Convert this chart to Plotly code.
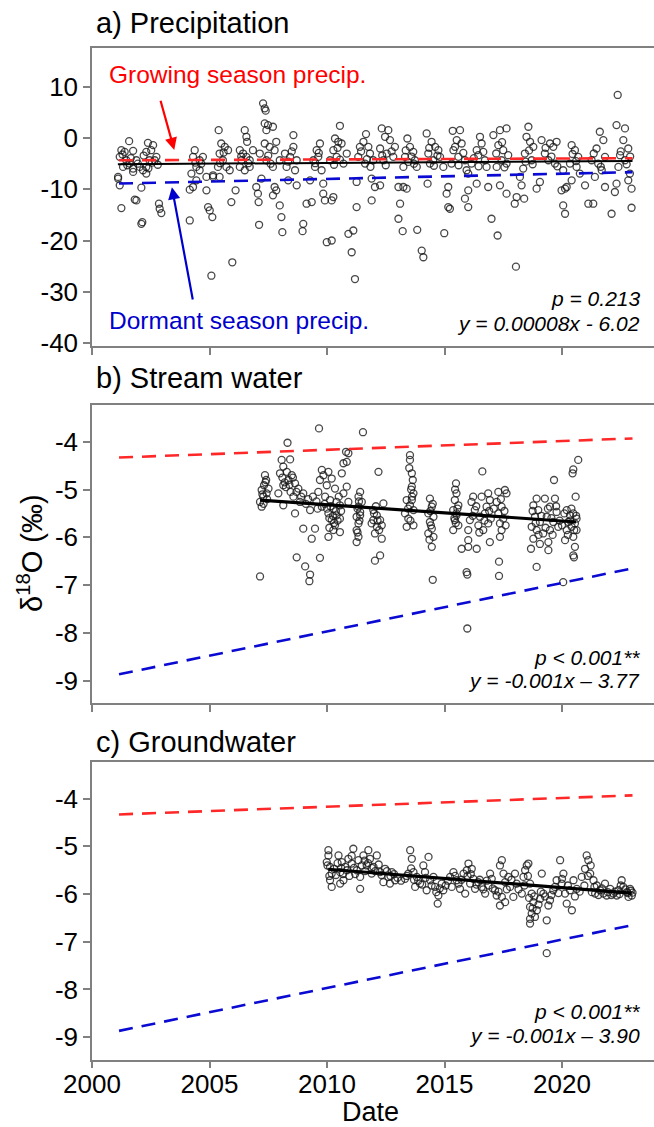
import plotly.graph_objects as go

# ---------------- data (decimal year, d18O permil) ----------------
precip_year = [
    2001.58, 2001.25, 2001.39, 2001.75, 2001.18, 2001.46, 2001.60, 2001.32, 2001.75, 2001.11,
    2001.18, 2002.10, 2001.25, 2001.89, 2001.82, 2002.14, 2002.10, 2002.85, 2002.88, 2002.95,
    2002.38, 2002.60, 2002.31, 2002.52, 2002.74, 2002.45, 2002.31, 2002.17, 2002.31, 2002.67,
    2001.89, 2002.03, 2001.75, 2001.11,
    2004.37, 2004.30, 2004.58, 2004.44, 2004.23, 2004.30, 2004.16, 2004.72, 2004.58, 2004.87,
    2005.15, 2004.94, 2005.01, 2005.12, 2004.16, 2004.87, 2004.44, 2005.08, 2005.97,
    2005.39, 2005.50, 2005.65, 2005.79, 2005.43, 2005.57, 2005.72, 2005.86, 2005.36, 2005.93,
    2006.11, 2005.43, 2005.15,
    2006.50, 2006.57, 2006.60, 2006.29, 2006.43, 2006.57, 2006.71, 2006.29, 2006.50, 2006.71,
    2006.99, 2007.06, 2007.09, 2007.11, 2006.85, 2006.36,
    2007.28, 2007.35, 2007.39, 2007.35, 2007.49, 2007.42, 2007.70, 2007.35, 2007.56, 2007.77,
    2007.14, 2007.42, 2007.70, 2007.21, 2007.77, 2007.70, 2007.84, 2007.99, 2008.06, 2008.10,
    2007.84, 2007.99,
    2008.21, 2008.57, 2008.57, 2008.43, 2008.71, 2008.28, 2008.64, 2008.35, 2008.71, 2008.99,
    2008.96, 2009.13, 2009.35, 2009.28, 2009.42, 2009.56, 2009.70, 2009.63, 2009.49, 2009.77,
    2009.84, 2009.84, 2009.91, 2009.99, 2010.20,
    2010.55, 2010.34, 2010.48, 2010.62, 2010.27, 2010.13, 2010.41, 2010.70, 2010.84, 2010.20,
    2010.27, 2010.91, 2011.12, 2011.26, 2011.05, 2011.19, 2011.26,
    2011.66, 2011.40, 2011.55, 2011.76, 2011.33, 2011.62, 2011.83, 2011.97, 2011.90, 2012.04,
    2012.26, 2011.90,
    2012.33, 2012.61, 2012.47, 2012.68, 2012.26, 2012.54, 2012.82, 2012.40, 2012.89, 2013.04,
    2013.11, 2013.04, 2013.22,
    2013.42, 2013.53, 2013.67, 2013.32, 2013.46, 2013.74, 2013.25, 2013.82, 2013.25, 2013.39,
    2013.84, 2014.03, 2014.10, 2014.28,
    2014.24, 2014.45, 2014.60, 2014.74, 2014.31, 2014.52, 2014.81, 2014.38, 2014.95, 2014.99,
    2015.16, 2015.09, 2015.16, 2015.23,
    2015.35, 2015.66, 2015.52, 2015.73, 2015.38, 2015.59, 2015.87, 2015.30, 2015.94, 2015.87,
    2016.01,
    2016.51, 2016.37, 2016.58, 2016.44, 2016.72, 2016.79, 2016.15, 2016.01, 2016.01, 2016.37,
    2016.86, 2017.00, 2017.26,
    2017.08, 2017.36, 2017.64, 2017.29, 2017.50, 2017.71, 2017.43, 2017.22, 2017.64, 2017.36,
    2017.64, 2018.07, 2017.99, 2018.39, 2018.04,
    2018.57, 2018.49, 2018.64, 2018.78, 2018.42, 2018.71, 2018.35, 2018.21, 2018.28, 2018.92,
    2019.06,
    2019.13, 2019.49, 2019.63, 2019.77, 2019.27, 2019.42, 2019.70, 2020.05, 2019.98, 2020.13,
    2020.20, 2020.05, 2020.13,
    2020.41, 2020.55, 2020.69, 2020.34, 2020.62, 2020.76, 2020.41, 2020.98, 2021.12, 2021.33,
    2021.61, 2021.47, 2021.76, 2021.26, 2021.54, 2021.83, 2021.69, 2021.40, 2021.83, 2022.11,
    2022.37, 2022.32, 2022.68, 2022.61, 2022.82, 2022.47, 2022.68, 2022.40, 2022.89, 2022.82,
    2022.32, 2022.96, 2022.96, 2022.25,
    2001.30, 2001.50, 2001.65, 2001.95, 2002.20, 2002.40, 2002.55, 2002.80, 2004.40, 2004.65,
    2005.45, 2005.60, 2006.35, 2006.65, 2007.50, 2007.60, 2008.35, 2008.50, 2009.50, 2009.65,
    2010.30, 2010.45, 2010.55, 2011.45, 2011.70, 2011.85, 2012.35, 2012.50, 2012.75, 2013.35,
    2013.60, 2013.70, 2014.35, 2014.55, 2014.70, 2015.45, 2015.60, 2015.80, 2016.25, 2016.45,
    2016.65, 2017.20, 2017.45, 2017.55, 2018.45, 2018.60, 2018.75, 2019.30, 2019.55, 2019.80,
    2020.45, 2020.60, 2021.35, 2021.65, 2022.50, 2022.75, 2022.90,
]
precip_d18o = [
    -0.59, -2.36, -2.68, -2.49, -3.66, -4.32, -4.97, -5.62, -5.95, -7.58,
    -9.22, -9.68, -13.66, -12.16, -12.00, -16.41, -16.74, -12.81, -13.79, -14.64,
    -0.92, -1.37, -2.68, -2.36, -3.66, -4.32, -5.62, -6.28, -6.93, -4.32,
    -4.32, -5.62, -6.60, -7.91,
    -2.36, -3.66, -4.32, -5.62, -6.93, -9.55, -10.07, -3.66, -6.28, -7.58,
    -7.26, -13.47, -14.12, -15.43, -16.08, -10.20, -8.24, -26.87, -24.25,
    1.56, -1.05, -1.70, -2.36, -3.01, -4.32, -5.62, -6.28, -5.62, -12.49,
    -10.20, -7.58, -7.58,
    1.56, 0.26, -0.72, -2.36, -3.01, -3.66, -4.32, -5.62, -6.28, -5.62,
    -9.55, -10.85, -12.49, -16.93, -2.36, -4.32,
    6.79, 5.81, 5.36, 2.87, 2.54, 1.56, 2.22, -1.05, -1.70, -2.36,
    -3.01, -4.32, -5.62, -7.91, -9.55, -11.18, -10.20, -13.14, -15.43, -18.37,
    -0.72, -4.32,
    -3.01, 0.59, -1.70, -3.66, -4.32, -5.62, -6.28, -8.24, -9.22, -16.74,
    -18.17, -12.81, -12.49, -8.24, -4.32, -2.36, -1.05, -3.66, -5.62, -6.28,
    -8.89, -10.85, -12.16, -20.33, -20.00,
    2.41, -0.07, -0.72, -1.05, -2.36, -4.32, -3.66, -4.97, -3.01, -12.16,
    -11.51, -18.70, -18.04, -13.47, -22.29, -27.52, -8.56,
    0.78, -1.70, -0.72, -1.70, -3.66, -4.97, -3.01, -4.32, -7.91, -9.55,
    -9.22, -12.16,
    1.89, 1.56, 0.26, -0.39, -2.03, -3.01, -3.66, -4.32, -1.70, -9.55,
    -12.81, -15.75, -18.17,
    -0.07, -1.70, -2.68, -3.66, -4.65, -4.32, -5.62, -5.62, -9.55, -9.87,
    -17.91, -21.96, -23.27, -8.89,
    0.91, -0.72, -1.70, -2.36, -3.01, -4.32, -3.66, -4.97, -5.62, -18.57,
    -9.55, -10.85, -13.47, -13.79,
    1.43, 1.56, -0.39, -1.05, -2.36, -3.66, -4.32, -4.97, -6.28, -11.83,
    -13.47,
    0.26, -2.36, -1.05, -3.34, -4.32, -5.62, -4.97, -6.93, -10.20, -8.89,
    -9.55, -15.75, -19.02,
    0.59, 1.56, 1.89, -1.37, -2.36, -3.34, -4.32, -5.62, -4.97, -9.22,
    -10.85, -11.51, -12.81, -11.83, -25.10,
    2.22, 0.26, -0.72, -1.70, -3.01, -4.32, -5.95, -7.58, -9.22, -9.87,
    -8.56,
    -0.39, -1.05, -1.70, -0.72, -3.01, -4.32, -4.97, -6.28, -10.20, -9.87,
    -9.55, -13.14, -14.77,
    -1.37, -2.36, -3.66, -4.97, -5.62, -6.93, -8.24, -9.22, -12.81, -12.81,
    1.24, -2.03, -0.39, -4.32, -4.97, -3.66, -6.28, -7.58, -9.55, -14.77,
    8.43, 2.54, 1.89, -0.39, -2.03, -3.34, -4.32, -5.62, -6.93, -8.24,
    -8.89, -9.87, -13.60, -10.52,
    -3.2, -5.3, -3.9, -5.0, -3.4, -5.9, -4.8, -5.2, -4.8, -5.0,
    -4.9, -2.8, -3.6, -4.9, -3.4, -5.0, -4.6, -2.6, -4.9, -2.9,
    -5.2, -1.9, -4.2, -2.6, -4.1, -5.6, -3.4, -5.3, -2.6, -2.4,
    -3.6, -5.0, -1.9, -5.4, -3.4, -1.7, -5.3, -2.9, -3.9, -5.5,
    -2.7, -3.0, -0.8, -5.7, -4.6, -2.4, -5.1, -1.9, -3.6, -5.5,
    -3.1, -4.5, -3.0, -5.6, -2.6, -5.1, -3.6,
]

stream_year = [
    2007.36, 2007.41, 2007.32, 2007.22, 2007.43, 2007.29, 2007.15, 2007.22, 2007.51, 2007.15,
    2008.07, 2008.43, 2008.14, 2008.29, 2008.00, 2008.50, 2008.36, 2008.64, 2008.14, 2008.78,
    2007.93, 2008.99, 2008.57, 2008.85, 2008.14, 2008.64, 2009.28, 2008.99, 2009.35, 2009.49,
    2008.71, 2009.07, 2009.28, 2009.25, 2009.70, 2008.32,
    2009.78, 2009.85, 2010.06, 2009.70, 2010.20, 2009.99, 2009.63, 2010.34, 2009.92, 2010.13,
    2010.41, 2009.78, 2010.27, 2010.55, 2010.06, 2010.41, 2010.20, 2010.55, 2010.34, 2010.06,
    2010.27, 2010.55, 2010.70, 2010.84, 2010.81, 2010.91, 2010.63, 2010.84, 2010.70, 2010.91,
    2009.66, 2011.53,
    2011.41, 2011.34, 2011.48, 2011.34, 2011.41, 2011.26, 2011.34, 2011.26, 2011.34, 2011.26,
    2011.41,
    2012.19, 2012.40, 2011.97, 2012.12, 2012.26, 2011.90, 2012.12, 2012.33, 2012.04, 2012.33,
    2012.26, 2012.04, 2011.97,
    2013.53, 2013.53, 2013.61, 2013.65, 2013.61, 2013.68, 2013.39, 2013.53, 2013.68, 2013.32,
    2013.46, 2013.39, 2013.68, 2013.61,
    2014.38, 2014.46, 2014.31, 2014.53, 2014.38, 2014.46, 2014.31, 2014.53, 2014.46, 2014.50,
    2015.49, 2015.51, 2015.44, 2015.59, 2015.37, 2015.51, 2015.44, 2015.59, 2015.37, 2015.51,
    2016.01, 2016.01, 2016.01, 2015.73, 2016.37, 2015.94, 2015.97, 2015.97,
    2016.61, 2016.15, 2016.29, 2016.51, 2016.08, 2016.44, 2016.65, 2016.22, 2016.58, 2016.86,
    2016.79, 2016.93, 2016.72, 2016.97, 2016.86, 2016.93,
    2017.36, 2017.29, 2017.57, 2017.64, 2017.22, 2017.43, 2017.29, 2017.50, 2017.36, 2017.43,
    2017.32, 2017.32,
    2018.92, 2018.78, 2018.99, 2018.85, 2019.06, 2018.71, 2018.92, 2019.20, 2018.78, 2019.06,
    2019.42, 2019.42, 2018.68, 2018.92, 2019.27, 2019.70, 2019.49, 2019.77, 2019.35, 2019.63,
    2019.84, 2019.49, 2019.66, 2020.05,
    2020.20, 2020.34, 2020.48, 2020.62, 2020.27, 2020.41, 2020.55, 2020.20, 2020.62, 2020.13,
    2020.48, 2020.55, 2020.48, 2020.51, 2020.58, 2020.45, 2020.48, 2020.69,
    2007.25, 2007.30, 2007.38, 2007.45, 2008.10, 2008.20, 2008.25, 2008.40, 2008.45, 2008.55,
    2008.70, 2008.90, 2009.10, 2009.20, 2009.40, 2009.55, 2009.60, 2009.90, 2010.00, 2010.10,
    2010.15, 2010.25, 2010.30, 2010.38, 2010.45, 2010.50, 2010.60, 2010.10, 2011.30, 2011.38,
    2011.30, 2011.36, 2012.00, 2012.15, 2012.22, 2012.08, 2013.50, 2013.58, 2013.45, 2013.55,
    2013.62, 2014.40, 2014.42, 2014.36, 2014.50, 2015.45, 2015.55, 2015.42, 2015.48, 2016.20,
    2016.35, 2016.48, 2016.70, 2016.90, 2017.10, 2017.40, 2017.55, 2017.60, 2018.75, 2018.88,
    2019.00, 2019.12, 2019.30, 2019.40, 2019.55, 2019.60, 2019.75, 2019.90, 2020.00, 2020.10,
    2020.25, 2020.35, 2020.40, 2020.52, 2020.60,
]
stream_d18o = [
    -4.70, -4.80, -4.91, -5.01, -5.08, -5.15, -5.26, -5.36, -4.98, -6.82,
    -4.38, -4.37, -4.52, -4.63, -4.66, -4.70, -4.80, -4.87, -4.91, -4.98,
    -5.08, -5.08, -5.15, -5.26, -5.33, -5.50, -5.43, -5.82, -6.03, -5.82,
    -6.42, -6.61, -6.78, -6.92, -6.43, -4.02,
    -4.59, -4.70, -4.63, -4.80, -4.77, -4.91, -5.05, -4.98, -5.15, -5.22,
    -5.26, -5.36, -5.40, -5.33, -5.50, -5.54, -5.64, -5.61, -5.75, -5.99,
    -5.85, -5.89, -4.45, -4.42, -4.21, -4.24, -4.66, -4.94, -5.08, -5.26,
    -3.72, -3.80,
    -5.05, -5.15, -5.26, -5.36, -5.47, -5.57, -5.71, -5.85, -5.99, -6.10,
    -5.54,
    -4.63, -5.29, -5.43, -5.54, -5.64, -5.71, -5.78, -5.75, -5.92, -6.03,
    -6.38, -6.49, -5.64,
    -4.28, -4.38, -4.66, -4.80, -4.94, -5.08, -5.22, -5.33, -5.43, -5.50,
    -5.61, -5.78, -5.75, -5.22,
    -5.19, -5.36, -5.50, -5.57, -5.68, -5.82, -5.92, -5.99, -6.20, -6.89,
    -4.87, -5.08, -5.22, -5.33, -5.43, -5.54, -5.64, -5.75, -5.85, -5.50,
    -5.85, -6.06, -6.20, -6.24, -6.24, -6.73, -6.78, -7.91,
    -4.62, -5.26, -5.43, -5.57, -5.64, -5.75, -5.85, -5.15, -5.15, -5.08,
    -5.36, -5.22, -5.50, -5.61, -5.71, -6.10,
    -5.99, -5.05, -5.01, -5.08, -5.26, -5.36, -5.50, -5.61, -5.71, -5.85,
    -6.51, -6.81,
    -5.19, -5.33, -5.43, -5.57, -5.68, -5.78, -5.85, -5.92, -6.03, -6.14,
    -6.10, -6.27, -6.24, -6.62, -5.19, -5.19, -5.36, -5.47, -5.57, -5.68,
    -5.78, -5.85, -4.80, -6.94,
    -5.43, -5.54, -5.50, -5.61, -5.68, -5.78, -5.71, -5.85, -5.85, -6.06,
    -5.99, -6.20, -6.38, -6.42, -5.15, -4.66, -4.58, -4.38,
    -5.10, -5.30, -4.85, -5.20, -4.75, -4.85, -4.95, -4.90, -5.05, -4.75,
    -5.05, -5.15, -5.30, -5.20, -5.15, -5.25, -5.40, -5.30, -5.40, -5.60,
    -5.35, -5.55, -5.70, -5.45, -5.65, -5.15, -5.45, -5.80, -5.40, -5.65,
    -5.90, -5.25, -5.50, -5.65, -5.85, -5.35, -4.55, -5.00, -5.40, -5.65,
    -5.15, -5.45, -5.75, -6.05, -5.30, -5.00, -5.40, -5.60, -5.70, -5.55,
    -5.35, -5.90, -5.65, -5.45, -5.40, -5.20, -5.45, -5.75, -5.45, -5.70,
    -5.95, -5.55, -5.80, -5.40, -5.60, -5.95, -5.35, -5.65, -5.75, -5.50,
    -5.95, -5.65, -5.40, -5.85, -5.55,
]

ground_year = [
    2010.06, 2010.06, 2009.99, 2010.13, 2010.20, 2010.13, 2010.20, 2010.49, 2010.63, 2010.56,
    2010.77, 2010.70, 2010.56, 2010.91, 2011.12, 2011.05, 2011.27, 2011.41, 2011.41, 2011.34,
    2011.55, 2011.76, 2011.83, 2011.69, 2011.98, 2012.12, 2011.90, 2012.26, 2012.47, 2012.61,
    2012.40, 2012.76, 2012.90, 2012.68,
    2013.54, 2013.61, 2013.46, 2013.32, 2013.82, 2013.75, 2013.96, 2014.10, 2014.32, 2014.17,
    2014.39, 2014.24, 2014.53, 2014.60, 2014.74, 2014.71, 2014.88, 2014.95, 2013.68,
    2015.24, 2015.38, 2015.52, 2015.31, 2015.66, 2015.81, 2016.02, 2015.95, 2016.16, 2016.23,
    2016.09, 2016.30, 2015.88, 2016.44, 2016.58, 2016.73, 2016.94, 2017.01, 2016.87, 2017.15,
    2017.22,
    2017.44, 2017.36, 2017.51, 2017.72, 2017.58, 2017.44, 2017.36, 2017.58, 2017.79, 2018.00,
    2018.07, 2017.93, 2018.29, 2018.36, 2018.50, 2018.57, 2018.43, 2018.64, 2018.71, 2018.64,
    2018.78, 2018.71, 2018.64, 2018.64, 2018.93, 2018.85, 2019.07, 2019.14, 2019.35, 2019.42,
    2019.21, 2019.35, 2019.49, 2019.63, 2019.77, 2019.92, 2020.06, 2019.99, 2020.13, 2020.20,
    2020.42, 2020.34, 2020.49, 2020.63, 2020.84,
    2021.05, 2021.12, 2020.98, 2021.20, 2021.34, 2021.48, 2021.27, 2021.62, 2021.83, 2021.76,
    2022.05, 2022.19, 2022.40, 2022.54, 2022.61, 2022.76, 2022.90, 2022.97, 2022.83, 2021.90,
    2022.33, 2021.41,
    2010.02, 2010.10, 2010.30, 2010.38, 2010.45, 2010.60, 2010.68, 2010.85, 2010.95, 2011.05,
    2011.15, 2011.20, 2011.48, 2011.60, 2011.62, 2011.75, 2011.90, 2012.05, 2012.20, 2012.32,
    2012.55, 2012.70, 2012.85, 2013.00, 2013.15, 2013.40, 2013.58, 2013.70, 2013.88, 2014.05,
    2014.20, 2014.45, 2014.65, 2014.80, 2015.05, 2015.15, 2015.45, 2015.60, 2015.72, 2015.98,
    2016.12, 2016.36, 2016.50, 2016.65, 2016.80, 2017.05, 2017.30, 2017.65, 2017.85, 2018.15,
    2018.40, 2018.55, 2018.60, 2018.75, 2018.82, 2019.00, 2019.10, 2019.28, 2019.55, 2019.70,
    2019.85, 2020.00, 2020.25, 2020.55, 2020.75, 2020.95, 2021.10, 2021.22, 2021.38, 2021.55,
    2021.70, 2021.95, 2022.10, 2022.25, 2022.45, 2022.50, 2022.70, 2022.80, 2022.93, 2023.00,
]
ground_d18o = [
    -5.08, -5.19, -5.33, -5.43, -5.57, -5.71, -5.85, -5.19, -5.33, -5.54,
    -5.43, -5.71, -5.78, -5.26, -5.05, -5.36, -5.50, -5.64, -5.89, -5.29,
    -5.19, -5.08, -5.26, -5.40, -5.43, -5.19, -5.57, -5.54, -5.47, -5.64,
    -5.75, -5.54, -5.71, -5.78,
    -5.08, -5.26, -5.57, -5.68, -5.64, -5.85, -5.78, -5.40, -5.22, -5.54,
    -5.71, -5.92, -5.64, -5.85, -6.03, -6.20, -5.78, -5.92, -5.54,
    -5.64, -5.54, -5.71, -5.85, -5.89, -5.57, -5.36, -5.50, -5.47, -5.68,
    -5.78, -5.89, -5.99, -5.75, -5.85, -5.99, -5.57, -5.68, -5.82, -5.92,
    -6.03,
    -5.29, -5.40, -5.57, -5.64, -5.75, -6.06, -6.24, -6.17, -5.85, -5.57,
    -5.78, -6.06, -5.99, -5.64, -5.40, -5.36, -5.50, -5.78, -5.99, -6.27,
    -6.17, -6.41, -6.52, -6.62, -6.34, -6.48, -6.10, -5.57, -6.55, -6.24,
    -5.99, -7.24, -6.13, -5.92, -5.71, -5.29, -5.57, -5.78, -5.99, -6.20,
    -6.34, -5.92, -5.71, -5.89, -5.64,
    -5.19, -5.29, -5.47, -5.57, -5.71, -5.82, -5.96, -5.92, -5.78, -5.99,
    -5.89, -5.99, -5.92, -5.71, -5.85, -5.96, -5.89, -6.03, -6.06, -6.03,
    -6.03, -5.99,
    -5.40, -5.62, -5.47, -5.60, -5.35, -5.45, -5.58, -5.50, -5.62, -5.20,
    -5.45, -5.58, -5.40, -5.30, -5.52, -5.35, -5.45, -5.52, -5.38, -5.60,
    -5.52, -5.62, -5.58, -5.66, -5.72, -5.62, -5.46, -5.70, -5.72, -5.80,
    -5.66, -5.82, -5.96, -5.88, -5.82, -5.72, -5.62, -5.78, -5.70, -5.62,
    -5.58, -5.80, -5.70, -5.90, -5.72, -5.88, -5.95, -5.90, -5.70, -5.90,
    -5.82, -5.62, -6.08, -6.30, -6.05, -6.22, -5.95, -6.05, -6.02, -5.85,
    -5.98, -5.68, -5.82, -6.05, -5.95, -5.82, -5.62, -5.40, -5.85, -6.02,
    -5.88, -5.96, -6.02, -5.95, -6.00, -5.82, -5.90, -5.98, -5.93, -5.97,
]

# fitted / reference trend lines (end points)
trend_year = [2001.15, 2023.0]
growing_trend = [-4.33, -3.93]
dormant_trend = [-8.87, -6.65]
precip_fit_year = [2001.1, 2023.0]
precip_fit = [-5.10, -4.47]
stream_fit_year = [2007.15, 2020.6]
stream_fit = [-5.22, -5.68]
ground_fit_year = [2010.05, 2022.95]
ground_fit = [-5.48, -5.98]

year_ticks = [2000, 2005, 2010, 2015, 2020]
precip_ticks = [10, 0, -10, -20, -30, -40]
iso_ticks = [-4, -5, -6, -7, -8, -9]
panel_titles = ["a) Precipitation", "b) Stream water", "c) Groundwater"]
stats_p = ["p = 0.213", "p < 0.001**", "p < 0.001**"]
stats_eq = ["y = 0.00008x - 6.02", "y = -0.001x \u2013 3.77", "y = -0.001x \u2013 3.90"]

# ---------------- figure ----------------
FONT = "Liberation Sans, Arial, Helvetica, sans-serif"
W, H = 654, 1127
L = 92
AX_GREY = "#808080"
RED = "rgb(255,40,40)"
BLUE = "rgb(10,10,210)"
MARK = "rgba(25,25,25,0.8)"
DASH = "14px,9px"


def py(pix):
    return 1 - pix / H


domains = [[py(346), py(48)], [py(703), py(405)], [py(1059.5), py(762)]]

fig = go.Figure()
series = [
    (precip_year, precip_d18o, precip_fit_year, precip_fit, 2),
    (stream_year, stream_d18o, stream_fit_year, stream_fit, 3.2),
    (ground_year, ground_d18o, ground_fit_year, ground_fit, 3.2),
]
for i, (xs, ys, fx, fy, fw) in enumerate(series):
    xa = "x" if i == 0 else f"x{i+1}"
    ya = "y" if i == 0 else f"y{i+1}"
    fig.add_trace(go.Scatter(x=xs, y=ys, mode="markers", xaxis=xa, yaxis=ya,
                             marker=dict(symbol="circle-open", size=7, color=MARK,
                                         line=dict(width=1.3, color=MARK)),
                             showlegend=False, hoverinfo="skip"))
    fig.add_trace(go.Scatter(x=trend_year, y=growing_trend, mode="lines", xaxis=xa, yaxis=ya,
                             line=dict(color=RED, width=2.6, dash=DASH), showlegend=False))
    fig.add_trace(go.Scatter(x=trend_year, y=dormant_trend, mode="lines", xaxis=xa, yaxis=ya,
                             line=dict(color=BLUE, width=2.6, dash=DASH), showlegend=False))
    fig.add_trace(go.Scatter(x=fx, y=fy, mode="lines", xaxis=xa, yaxis=ya,
                             line=dict(color="black", width=fw), showlegend=False))

xcommon = dict(range=[2000, 2000 + (W - L) / 23.5], showline=True, linecolor=AX_GREY, linewidth=1.5,
               mirror=True, ticks="outside", ticklen=7, tickwidth=1.5, tickcolor=AX_GREY,
               tickvals=year_ticks, ticktext=[str(v) for v in year_ticks],
               showgrid=False, zeroline=False, automargin=False,
               tickfont=dict(family=FONT, size=26, color="black"))
ycommon = dict(showline=True, linecolor=AX_GREY, linewidth=1.5, mirror=False, ticks="outside",
               ticklen=7, tickwidth=1.5, tickcolor=AX_GREY, showgrid=False, zeroline=False,
               automargin=False, tickfont=dict(family=FONT, size=26, color="black"))

fig.update_layout(
    width=W, height=H, margin=dict(l=L, r=0, t=0, b=0),
    paper_bgcolor="white", plot_bgcolor="white",
    font=dict(family=FONT, color="black"),
    xaxis=dict(xcommon, anchor="y", showticklabels=False),
    xaxis2=dict(xcommon, anchor="y2", matches="x", showticklabels=False),
    xaxis3=dict(xcommon, anchor="y3", matches="x", showticklabels=True, ticklabelstandoff=-6),
    yaxis=dict(ycommon, domain=domains[0], range=[-40.6, 17.6], tickvals=precip_ticks,
               ticktext=[str(v) for v in precip_ticks]),
    yaxis2=dict(ycommon, domain=domains[1], range=[-9.47, -3.23], tickvals=iso_ticks,
                ticktext=[str(v) for v in iso_ticks]),
    yaxis3=dict(ycommon, domain=domains[2], range=[-9.47, -3.23], tickvals=iso_ticks,
                ticktext=[str(v) for v in iso_ticks]),
)

ann = []
title_y = [23, 378, 742]
for i, t in enumerate(panel_titles):
    ann.append(dict(text=t, xref="paper", yref="paper", x=0.004, y=py(title_y[i]),
                    xanchor="left", yanchor="middle", showarrow=False,
                    font=dict(family=FONT, size=29, color="black")))
p_pos = [0.161, 0.154, 0.160]
e_pos = [0.077, 0.077, 0.082]
for i in range(3):
    xd = "x domain" if i == 0 else f"x{i+1} domain"
    yd = "y domain" if i == 0 else f"y{i+1} domain"
    ann.append(dict(text=f"<i>{stats_p[i]}</i>", xref=xd, yref=yd, x=0.978, y=p_pos[i],
                    xanchor="right", yanchor="middle", showarrow=False,
                    font=dict(family=FONT, size=21, color="black")))
    ann.append(dict(text=f"<i>{stats_eq[i]}</i>", xref=xd, yref=yd, x=0.978, y=e_pos[i],
                    xanchor="right", yanchor="middle", showarrow=False,
                    font=dict(family=FONT, size=21, color="black")))

ann.append(dict(text="Growing season precip.", xref="x", yref="y", x=2000.64, y=12.4,
                xanchor="left", yanchor="middle", showarrow=False,
                font=dict(family=FONT, size=24.5, color="rgb(255,0,0)")))
ann.append(dict(text="Dormant season precip.", xref="x", yref="y", x=2000.64, y=-35.7,
                xanchor="left", yanchor="middle", showarrow=False,
                font=dict(family=FONT, size=24.5, color="rgb(0,0,205)")))
ann.append(dict(text="", xref="x", yref="y", axref="x", ayref="y", x=2003.5, y=-2.3,
                ax=2002.9, ay=7.6, showarrow=True, arrowhead=2, arrowsize=1.1, arrowwidth=2.2,
                arrowcolor="rgb(255,0,0)"))
ann.append(dict(text="", xref="x", yref="y", axref="x", ayref="y", x=2003.4, y=-9.6,
                ax=2004.3, ay=-31.8, showarrow=True, arrowhead=2, arrowsize=1.1, arrowwidth=2.2,
                arrowcolor="rgb(0,0,205)"))
ann.append(dict(text="\u03b4<sup>18</sup>O (\u2030)", xref="paper", yref="paper",
                x=(30 - L) / (W - L), y=py(553), textangle=-90, xanchor="center", yanchor="middle",
                showarrow=False, font=dict(family=FONT, size=29, color="black")))
ann.append(dict(text="Date", xref="paper", yref="paper", x=(370 - L) / (W - L), y=py(1112),
                xanchor="center", yanchor="middle", showarrow=False,
                font=dict(family=FONT, size=27, color="black")))
fig.update_layout(annotations=ann)

fig.write_html("out.html", config={"displayModeBar": False},
               post_script="document.body.style.margin='0';document.body.style.padding='0';"
                           "document.body.style.overflow='hidden';")
